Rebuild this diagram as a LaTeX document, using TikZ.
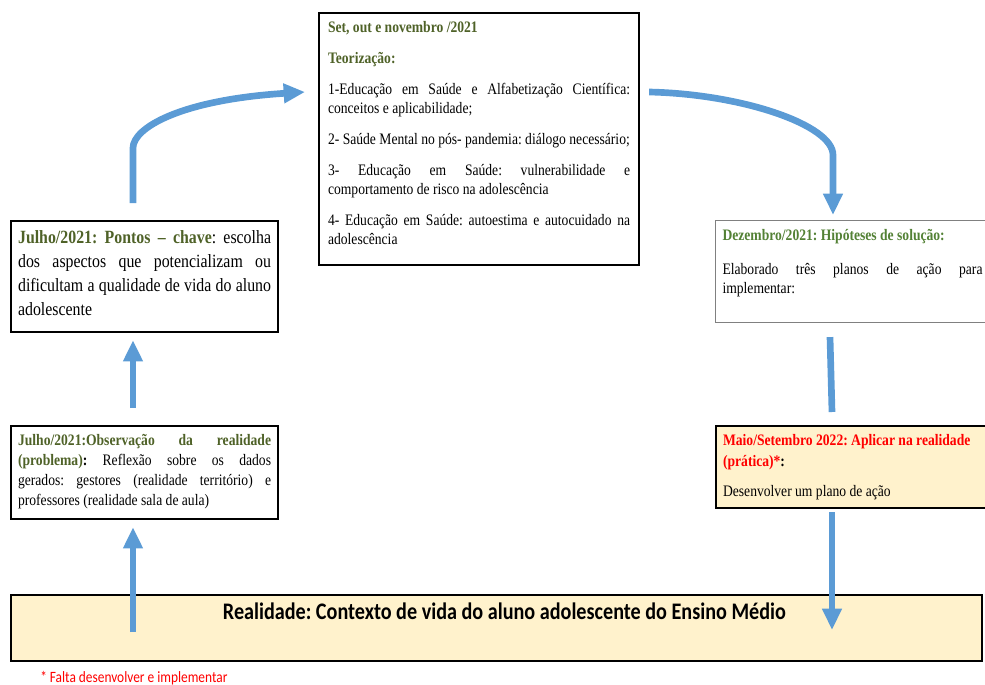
\documentclass[tikz,border=0pt]{standalone}
\usepackage{fontspec}
\setmainfont[FakeStretch=0.85]{Liberation Serif}
\newfontfamily\calibri[FakeStretch=0.85]{Carlito}
\usetikzlibrary{arrows.meta,calc}
\definecolor{cblue}{HTML}{5B9BD5}
\definecolor{ccream}{HTML}{FFF2CC}
\definecolor{cgreen}{HTML}{4F6228}
\definecolor{cgreenb}{HTML}{538135}
\definecolor{cred}{HTML}{FF0000}
\frenchspacing
% width, height, parskip, text
\newcommand{\boxtext}[4]{\begin{minipage}[t][#2][t]{#1}\setlength{\parskip}{#3}#4\end{minipage}}

\begin{document}
\begin{tikzpicture}[x=0.75pt,y=-0.75pt,
  box/.style={draw,line width=1.6pt,anchor=north west,inner xsep=5.25pt,inner ysep=6.5pt},
  thinbox/.style={box,draw=gray,line width=0.8pt},
  hot/.style={box,fill=ccream},
  flow/.style={draw=cblue,line width=5pt,-{Triangle[length=16pt,width=14pt]}},
  link/.style={draw=cblue,line width=5pt}]
\useasboundingbox (0,0) rectangle (985,685);

\node[box,inner xsep=6.75pt,inner ysep=6pt,font=\fontsize{12}{14.25}\selectfont] (teor) at (318,12)
  {\boxtext{226.5pt}{177pt}{9pt}{%
  \textcolor{cgreen}{\bfseries Set, out e novembro /2021}\par
  \textcolor{cgreen}{\bfseries Teorização:}\par
  1-Educação em Saúde e Alfabetização Científica:\linebreak conceitos e aplicabilidade;\par
  2- Saúde Mental no pós- pandemia: diálogo necessário;\par
  3- Educação em Saúde: vulnerabilidade e\linebreak comportamento de risco na adolescência\par
  4- Educação em Saúde: autoestima e autocuidado na\linebreak adolescência}};

\node[box,inner ysep=7pt,font=\fontsize{14}{18}\selectfont] (chave) at (10,220)
  {\boxtext{189.75pt}{69.25pt}{0pt}{%
  \textcolor{cgreen}{\bfseries Julho/2021: Pontos -- chave}: escolha\linebreak
  dos aspectos que potencializam ou\linebreak
  dificultam a qualidade de vida do aluno\linebreak adolescente}};

\node[box,inner ysep=6pt,font=\fontsize{12}{15}\selectfont] (obs) at (10,425)
  {\boxtext{189.75pt}{57.75pt}{0pt}{%
  \textcolor{cgreen}{\bfseries Julho/2021:Observação da realidade}\linebreak
  \textcolor{cgreen}{\bfseries (problema)}{\bfseries :} Reflexão sobre os dados\linebreak
  gerados: gestores (realidade território) e\linebreak
  professores (realidade sala de aula)}};

\node[thinbox,font=\fontsize{12}{14.25}\selectfont] (dez) at (715,220)
  {\boxtext{195pt}{63.5pt}{11.25pt}{%
  \textcolor{cgreenb}{\bfseries Dezembro/2021: Hipóteses de solução:}\par
  Elaborado três planos de ação para\linebreak implementar:}};

\node[hot,font=\fontsize{12}{15.75}\selectfont] (maio) at (715,425)
  {\boxtext{195pt}{48.5pt}{6.75pt}{%
  {\bfseries\textcolor{cred}{Maio/Setembro 2022: Aplicar na realidade}\newline
  \textcolor{cred}{(prática)*}:}\par
  Desenvolver um plano de ação}};

\node[hot,inner ysep=6pt,font=\calibri\bfseries\fontsize{17.8}{20}\selectfont] (real) at (10,594)
  {\boxtext{717.5pt}{37.5pt}{0pt}{\centering\hspace*{12pt}Realidade: Contexto de vida do aluno adolescente do Ensino Médio\par}};

\node[anchor=base west,inner sep=0pt,text=cred,font=\calibri\fontsize{11.8}{13}\selectfont] (nota) at (40,682)
  {* Falta desenvolver e implementar};

% arrows
\draw[flow] ($(real.north west)+(123,38)$) -- ($(obs.south west)+(123,7)$);
\draw[flow] ($(obs.north west)+(123,-17)$) -- ($(chave.south west)+(123,7)$);
\draw[flow] ($(chave.north west)+(123,-17)$) -- ++(0,-55)
  .. controls +(0,-20) and +(-125,8) .. ($(teor.north west)+(-13,80)$);
\draw[flow] ($(teor.north east)+(9,80)$) .. controls +(93,2) and +(0,-30) ..
  ($(dez.north west)+(118,-65)$) -- ($(dez.north west)+(118,-5)$);
\draw[link] ($(dez.south west)+(115,14)$) -- ($(maio.north west)+(117,-13)$);
\draw[flow] ($(maio.south west)+(117,3)$) -- ($(real.north west)+(822,36)$);
\end{tikzpicture}
\end{document}
